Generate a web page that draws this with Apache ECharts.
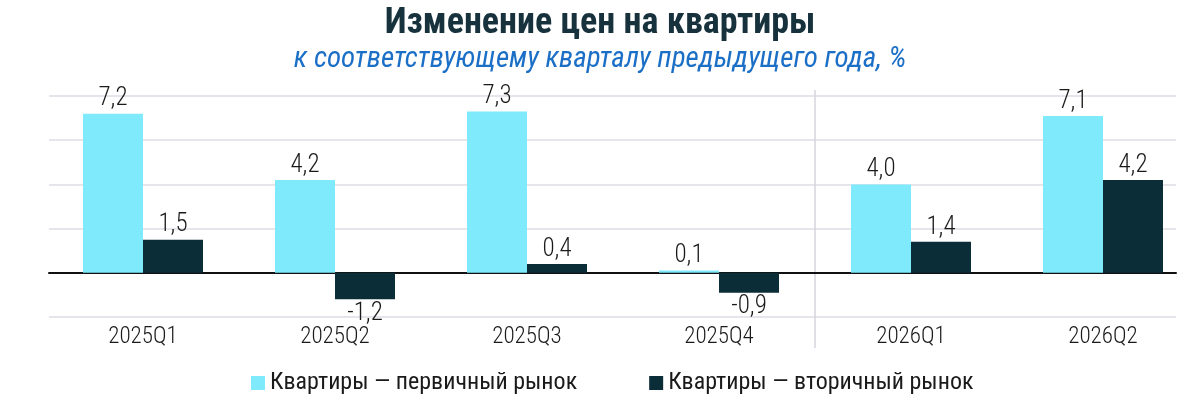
<!DOCTYPE html>
<html style="height: 100%">

<head>
  <meta charset="UTF-8" />
  <title>Изменение цен на квартиры</title>
  <script src="https://cdn.jsdelivr.net/npm/echarts@6/dist/echarts.min.js"></script>
</head>

<body style="height: 100%; margin: 0; background: #fff">
  <div id="main" style="width: 1200px; height: 420px"></div>
  <script>
    const categories = ['2025Q1', '2025Q2', '2025Q3', '2025Q4', '2026Q1', '2026Q2'];
    const primary = [7.2, 4.2, 7.3, 0.1, 4.0, 7.1];
    const secondary = [1.5, -1.2, 0.4, -0.9, 1.4, 4.2];
    const seriesNames = ['Квартиры — первичный рынок', 'Квартиры — вторичный рынок'];

    const FONT = "'Roboto Condensed', 'Liberation Sans Narrow', 'DejaVu Sans Condensed', Roboto, sans-serif";

    const chart = echarts.init(document.getElementById('main'));

    // negative values get their label under the bar
    function withLabels(arr) {
      return arr.map(function (v) {
        return { value: v, label: { position: v < 0 ? 'bottom' : 'top' } };
      });
    }

    const labelStyle = {
      show: true,
      distance: 2,
      fontFamily: FONT,
      fontSize: 25,
      fontWeight: 300,
      color: '#1a1a1a',
      formatter: function (p) {
        return p.value.toFixed(1).replace('.', ',');
      },
    };

    const option = {
      backgroundColor: '#ffffff',
      textStyle: { fontFamily: FONT },
      title: {
        text: 'Изменение цен на квартиры',
        subtext: 'к соответствующему кварталу предыдущего года, %',
        left: 'center',
        top: 1,
        itemGap: 3,
        textStyle: { fontFamily: FONT, fontSize: 36, fontWeight: 'bold', color: '#17323d' },
        subtextStyle: { fontFamily: FONT, fontSize: 29, fontStyle: 'italic', color: '#1b6fc6' },
      },
      legend: {
        data: seriesNames,
        left: 246,
        top: 366,
        itemWidth: 14,
        itemHeight: 14,
        itemGap: 72,
        icon: 'rect',
        textStyle: { fontFamily: FONT, fontSize: 24, color: '#1a1a1a' },
      },
      grid: [
        // grid 0: background gridlines and zero line
        { left: 49, right: 24, top: 96, bottom: 103 },
        // grid 1: bars
        { left: 47, right: 1, top: 96, bottom: 103 },
      ],
      xAxis: [
        {
          gridIndex: 0,
          type: 'category',
          data: categories,
          axisLine: { show: true, onZero: true, lineStyle: { color: '#111', width: 2 } },
          axisTick: { show: false },
          axisLabel: { show: false },
        },
        {
          gridIndex: 1,
          type: 'category',
          data: categories,
          axisLine: { show: false, onZero: false },
          axisTick: { show: false },
          axisLabel: { margin: 9, fontFamily: FONT, fontSize: 23, fontWeight: 300, color: '#1a1a1a' },
        },
      ],
      yAxis: [
        {
          gridIndex: 0,
          type: 'value',
          min: -2,
          max: 8,
          interval: 2,
          axisLabel: { show: false },
          axisLine: { show: false },
          axisTick: { show: false },
          splitLine: { lineStyle: { color: '#dcdce6', width: 1.5 } },
        },
        {
          gridIndex: 1,
          type: 'value',
          min: -2,
          max: 8,
          interval: 2,
          axisLabel: { show: false },
          axisLine: { show: false },
          axisTick: { show: false },
          splitLine: { show: false },
        },
      ],
      series: [
        {
          name: seriesNames[0],
          type: 'bar',
          xAxisIndex: 1,
          yAxisIndex: 1,
          barWidth: 60,
          barGap: '0%',
          itemStyle: { color: '#7eeafb' },
          label: labelStyle,
          data: withLabels(primary),
        },
        {
          name: seriesNames[1],
          type: 'bar',
          xAxisIndex: 1,
          yAxisIndex: 1,
          barWidth: 60,
          barGap: '0%',
          itemStyle: { color: '#0b2d38' },
          label: labelStyle,
          data: withLabels(secondary),
        },
      ],
    };

    chart.setOption(option);

    // vertical separator between 2025 and 2026, placed from the axis scale
    const xA = chart.convertToPixel({ xAxisIndex: 1 }, categories[3]);
    const xB = chart.convertToPixel({ xAxisIndex: 1 }, categories[4]);
    const yTop = chart.convertToPixel({ yAxisIndex: 1 }, 8);
    const yBot = chart.convertToPixel({ yAxisIndex: 1 }, -2);
    const sepX = Math.round((xA + xB) / 2);
    chart.setOption({
      graphic: [{
        type: 'line',
        z: 0,
        shape: { x1: sepX, y1: yTop - 6, x2: sepX, y2: yBot + 31 },
        style: { stroke: '#d4d4dc', lineWidth: 1.5 },
      }],
    });
  </script>
</body>

</html>
